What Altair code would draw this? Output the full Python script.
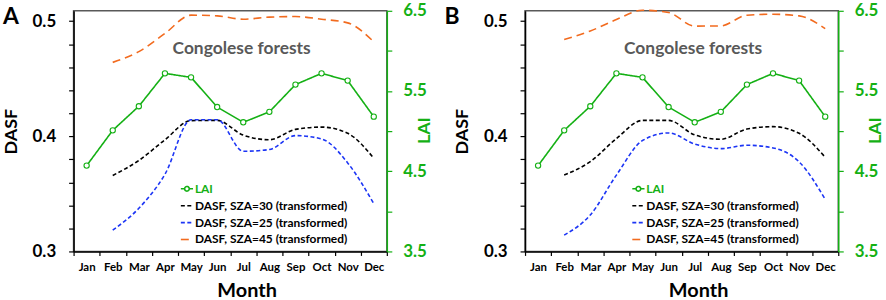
import altair as alt
import pandas as pd

months = ["Jan", "Feb", "Mar", "Apr", "May", "Jun", "Jul", "Aug", "Sep", "Oct", "Nov", "Dec"]
dasf_months = months[1:]

lai = [4.57, 5.01, 5.31, 5.72, 5.67, 5.30, 5.11, 5.24, 5.58, 5.72, 5.63, 5.18]

a_sza30 = [0.366, 0.379, 0.397, 0.4136, 0.4138, 0.401, 0.397, 0.406, 0.408, 0.4026, 0.381]
a_sza25 = [0.3185, 0.3375, 0.367, 0.4144, 0.4144, 0.387, 0.3885, 0.4006, 0.3977, 0.3769, 0.3415]
a_sza45 = [0.4642, 0.4735, 0.4893, 0.5052, 0.5046, 0.5017, 0.5035, 0.504, 0.5017, 0.4985, 0.4821]

b_sza30 = [0.3663, 0.378, 0.398, 0.4138, 0.4138, 0.4012, 0.3974, 0.4063, 0.4084, 0.4026, 0.3818]
b_sza25 = [0.3142, 0.3317, 0.3663, 0.3963, 0.4029, 0.3933, 0.3893, 0.3922, 0.3899, 0.3778, 0.3453]
b_sza45 = [0.4841, 0.4914, 0.5014, 0.5095, 0.5075, 0.4957, 0.4959, 0.5052, 0.506, 0.5046, 0.4935]

series = ["LAI", "DASF, SZA=30 (transformed)", "DASF, SZA=25 (transformed)", "DASF, SZA=45 (transformed)"]
GREEN = "#14B014"
colors = [GREEN, "#000000", "#1C35F5", "#F26B1F"]
dashes = [[1, 0], [4, 2.5], [4, 2.5], [8, 5]]

dasf_ticks = [0.30, 0.32, 0.34, 0.36, 0.38, 0.40, 0.42, 0.44, 0.46, 0.48, 0.50]
lai_ticks = [3.5, 4.0, 4.5, 5.0, 5.5, 6.0, 6.5]

FONT = "Lato"
W, H = 315, 242
LAI_SYMBOL = ("M-1,0L-0.38,0M0.38,0L1,0M-0.38,0A0.38,0.38,0,1,0,0.38,0"
              "A0.38,0.38,0,1,0,-0.38,0")


def panel(letter, tag_x, s30, s25, s45):
    df_lai = pd.DataFrame({"month": months, "value": lai, "series": series[0]})
    df_dasf = pd.concat([
        pd.DataFrame({"month": dasf_months, "value": s30, "series": series[1]}),
        pd.DataFrame({"month": dasf_months, "value": s25, "series": series[2]}),
        pd.DataFrame({"month": dasf_months, "value": s45, "series": series[3]}),
    ])

    x = alt.X("month:O", sort=months,
              scale=alt.Scale(type="band", domain=months, paddingInner=0, paddingOuter=0),
              axis=alt.Axis(title="Month", labelAngle=0, tickBand="extent", tickSize=4,
                            tickColor="black", domainColor="black", domainWidth=1.5, tickWidth=1.2,
                            labelFont=FONT, labelFontWeight="bold", labelFontSize=11.5, labelColor="black",
                            labelPadding=6, titleFont=FONT, titleFontSize=20, titleFontWeight="bold",
                            titleColor="black", titleX=174, titleY=39.5, titleBaseline="middle"))

    legend = alt.Legend(title=None, orient="none", legendX=107, legendY=172,
                        symbolType={"expr": "datum.label == 'LAI' ? '%s' : 'stroke'" % LAI_SYMBOL},
                        symbolSize=150, symbolStrokeWidth=1.6,
                        labelFont=FONT, labelFontWeight="bold", labelFontSize=12,
                        labelColor={"expr": "datum.label == 'LAI' ? '%s' : 'black'" % GREEN},
                        rowPadding=4, labelOffset=1, labelLimit=300)
    color = alt.Color("series:N", scale=alt.Scale(domain=series, range=colors), legend=legend)
    dash = alt.StrokeDash("series:N", scale=alt.Scale(domain=series, range=dashes), legend=legend)

    y_dasf = alt.Y("value:Q",
                   scale=alt.Scale(domain=[0.3, 0.509], nice=False, zero=False),
                   axis=alt.Axis(title="DASF", orient="left", values=dasf_ticks,
                                 labelExpr="abs(datum.value*10 - round(datum.value*10)) < 0.001 ? format(datum.value, '.1f') : ''",
                                 tickSize=5, tickColor="black", tickWidth=1.2, domainColor="black", domainWidth=1.5,
                                 labelFont=FONT, labelFontWeight="bold", labelFontSize=17, labelColor="black",
                                 labelPadding=13, titleFont=FONT, titleFontSize=18, titleFontWeight="bold",
                                 titleColor="black", titleAngle=270, titleBaseline="middle",
                                 titleX=-62.5, titleY=121, grid=False))
    y_lai = alt.Y("value:Q",
                  scale=alt.Scale(domain=[3.5, 6.5], nice=False, zero=False),
                  axis=alt.Axis(title="LAI", orient="right", values=lai_ticks,
                                labelExpr="datum.value % 1 == 0.5 ? format(datum.value, '.1f') : ''",
                                tickSize=5, tickColor=GREEN, tickWidth=1.2, domainColor=GREEN, domainWidth=1.5,
                                labelFont=FONT, labelFontWeight="bold", labelFontSize=17, labelColor=GREEN,
                                labelPadding=11, titleFont=FONT, titleFontSize=18, titleFontWeight="bold",
                                titleColor=GREEN, titleAngle=270, titleBaseline="middle",
                                titleX=37.5, titleY=120, grid=False))

    dasf_lines = alt.Chart(df_dasf).mark_line(strokeWidth=1.6, interpolate="monotone").encode(
        x=x, y=y_dasf, color=color, strokeDash=dash)
    lai_line = alt.Chart(df_lai).mark_line(strokeWidth=1.6).encode(
        x=x, y=y_lai, color=color, strokeDash=dash)
    lai_pts = alt.Chart(df_lai).mark_point(filled=True, fill="white", stroke=GREEN, strokeWidth=1.1,
                                          size=28, opacity=1).encode(x=x, y=y_lai)

    label = alt.Chart(pd.DataFrame({"t": ["Congolese forests"]})).mark_text(
        font=FONT, fontSize=17.5, fontWeight="bold", color="#595959").encode(
        text="t:N", x=alt.value(169), y=alt.value(38))
    tag = alt.Chart(pd.DataFrame({"t": [letter]})).mark_text(
        font=FONT, fontSize=23, fontWeight="bold", color="black", align="left", baseline="middle").encode(
        text="t:N", x=alt.value(tag_x), y=alt.value(6))

    return alt.layer(dasf_lines, alt.layer(lai_line, lai_pts), label, tag).resolve_scale(
        y="independent").properties(width=W, height=H)


chart = alt.hconcat(
    panel("A", -71, a_sza30, a_sza25, a_sza45),
    panel("B", -81, b_sza30, b_sza25, b_sza45),
    spacing=9,
).resolve_legend(color="independent", strokeDash="independent").configure_view(
    stroke="#595959", strokeWidth=1.5).properties(
    padding={"left": 1, "top": 0, "right": 0, "bottom": 0}, background="white")

chart.save("out.html", embed_options={"renderer": "svg", "actions": False})
